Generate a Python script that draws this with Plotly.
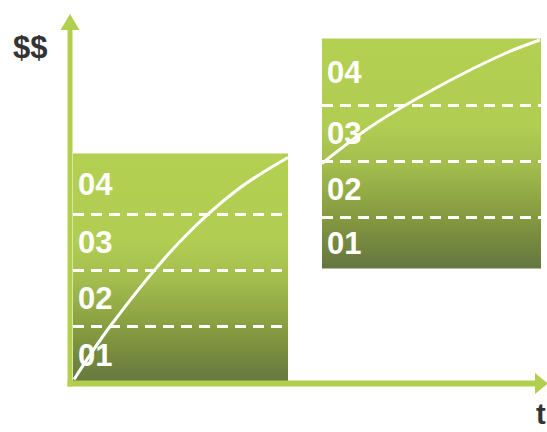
import plotly.graph_objects as go

# ---- data (t = time units, v = $ units; origin at the axes corner) ----
tiers = ["01", "02", "03", "04"]
period_start = [3, 252]
period_end = [218, 471]
tier_bounds_left = [0, 57, 113, 169, 230]
tier_bounds_right = [115, 166, 222, 278, 345]
curve_left_t = [4, 40, 110, 167, 218]
curve_left_v = [4, 57, 142, 193.5, 226]
curve_right_t = [252, 301, 365, 435, 470]
curve_right_v = [220, 257, 295, 330, 343.5]
y_label = "$$"
x_label = "t"

tier_bounds = [tier_bounds_left, tier_bounds_right]
curves = [(curve_left_t, curve_left_v), (curve_right_t, curve_right_v)]

LIME = "#b2ce4f"
gradient = [[0.0, "#65763f"], [0.22, "#84993f"], [0.45, "#a3bd4e"],
            [0.62, "#b1cd52"], [1.0, "#b4d052"]]
FONT = "Liberation Sans, Arial"

fig = go.Figure()

# blocks with vertical gradient
for x0, x1, b in zip(period_start, period_end, tier_bounds):
    fig.add_trace(go.Scatter(
        x=[x0, x1, x1, x0, x0], y=[b[0], b[0], b[-1], b[-1], b[0]],
        mode="none", fill="toself",
        fillgradient=dict(type="vertical", colorscale=gradient,
                          start=b[0], stop=b[-1]),
        hoverinfo="skip", showlegend=False))
    # dashed tier separators
    for yb in b[1:-1]:
        fig.add_trace(go.Scatter(
            x=[x0, x1], y=[yb, yb], mode="lines",
            line=dict(color="white", width=3, dash="11px,7px"),
            hoverinfo="skip", showlegend=False))
    # tier labels
    for i, name in enumerate(tiers):
        fig.add_annotation(x=x0 + 3, y=(b[i] + b[i + 1]) / 2, text=name,
                           showarrow=False, xanchor="left", yanchor="middle",
                           font=dict(family=FONT, size=31,
                                     color="white", weight="bold"))

# curves
for ct, cv in curves:
    fig.add_trace(go.Scatter(x=ct, y=cv, mode="lines",
                             line=dict(color="white", width=3, shape="spline",
                                       smoothing=1.0),
                             hoverinfo="skip", showlegend=False))

# axes with arrows
fig.add_trace(go.Scatter(x=[0, 0], y=[-3, 356], mode="lines",
                         line=dict(color=LIME, width=5),
                         hoverinfo="skip", showlegend=False))
fig.add_trace(go.Scatter(x=[-2.5, 466], y=[0, 0], mode="lines",
                         line=dict(color=LIME, width=6),
                         hoverinfo="skip", showlegend=False))
fig.add_trace(go.Scatter(x=[-9.5, 9.5, 0, -9.5], y=[353.5, 353.5, 369.5, 353.5],
                         mode="none", fill="toself", fillcolor=LIME,
                         hoverinfo="skip", showlegend=False))
fig.add_trace(go.Scatter(x=[465, 465, 478, 465], y=[10.5, -10.5, 0, 10.5],
                         mode="none", fill="toself", fillcolor=LIME,
                         hoverinfo="skip", showlegend=False))

fig.add_annotation(x=-40, y=336, text=y_label, showarrow=False,
                   xanchor="center", yanchor="middle",
                   font=dict(family=FONT, size=31,
                             color="#333333", weight="bold"))
fig.add_annotation(x=471, y=-46, yshift=-2, text=x_label, showarrow=False,
                   xanchor="center", yanchor="bottom",
                   font=dict(family=FONT, size=29,
                             color="#333333", weight="bold"))

fig.update_layout(
    width=547, height=432, margin=dict(l=0, r=0, t=0, b=0),
    paper_bgcolor="white", plot_bgcolor="white",
    xaxis=dict(range=[-70, 477], visible=False, fixedrange=True),
    yaxis=dict(range=[-48.5, 383.5], visible=False, fixedrange=True),
    showlegend=False,
)

fig.write_html("out.html")
